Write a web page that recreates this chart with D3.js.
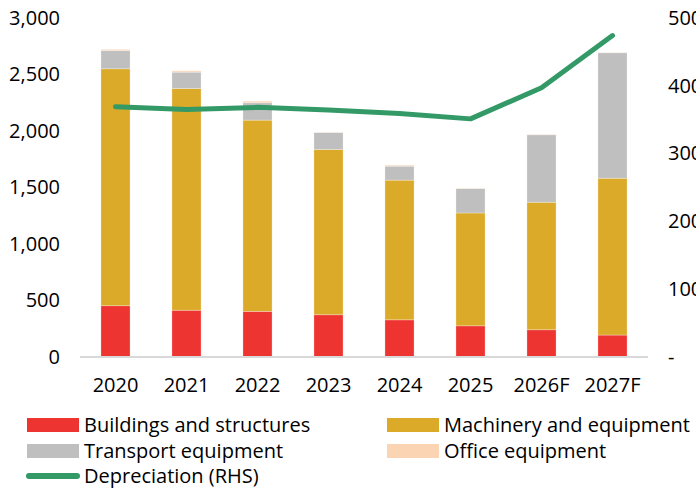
<!DOCTYPE html>
<html>
<head>
<meta charset="utf-8">
<script src="https://cdn.jsdelivr.net/npm/d3@7"></script>
<style>
  body { margin: 0; background: #fff; }
  svg { font-family: "Open Sans", "Noto Sans", sans-serif; }
</style>
</head>
<body>
<div id="chart"></div>
<script>
// data
var years = ["2020", "2021", "2022", "2023", "2024", "2025", "2026F", "2027F"];
var buildings = [450, 410, 400, 370, 325, 272, 237, 190];
var machinery = [2100, 1965, 1695, 1465, 1238, 1000, 1130, 1390];
var transport = [162, 145, 154, 150, 124, 216, 598, 1112];
var office = [10, 12, 14, 3, 9, 4, 3, 2];
var depreciation = [369, 365, 368, 364, 359, 351, 397, 474];
var leftTicks = [0, 500, 1000, 1500, 2000, 2500, 3000];
var rightTicks = [0, 100, 200, 300, 400, 500];

var W = 696, H = 491;
var margin = { left: 80, right: 48, top: 18, bottom: 134 };

var svg = d3.select("#chart").append("svg")
    .attr("width", W)
    .attr("height", H);

var x = d3.scaleBand()
    .domain(years)
    .range([margin.left, W - margin.right])
    .paddingInner(0.59)
    .paddingOuter(0.295);

var y = d3.scaleLinear().domain([0, 3000]).range([H - margin.bottom - 0.5, margin.top]);
var y2 = d3.scaleLinear().domain([0, 500]).range([H - margin.bottom - 0.5, margin.top]);

var keys = ["buildings", "machinery", "transport", "office"];
var colors = { buildings: "#ee3431", machinery: "#dbaa29", transport: "#bfbfbf", office: "#fbd4b4" };
var rows = years.map(function (yr, i) {
    return { year: yr, buildings: buildings[i], machinery: machinery[i], transport: transport[i], office: office[i] };
});
var stack = d3.stack().keys(keys)(rows);

// bars
svg.append("g").selectAll("g")
    .data(stack)
    .enter().append("g")
    .attr("fill", function (d) { return colors[d.key]; })
    .selectAll("rect")
    .data(function (d) { return d; })
    .enter().append("rect")
    .attr("x", function (d) { return x(d.data.year); })
    .attr("width", x.bandwidth())
    .attr("y", function (d) { return y(d[1]); })
    .attr("height", function (d) { return y(d[0]) - y(d[1]); })
    .attr("stroke", "#fff")
    .attr("stroke-opacity", 0.35)
    .attr("stroke-width", 0.8);

// baseline
svg.append("line")
    .attr("x1", margin.left).attr("x2", W - margin.right)
    .attr("y1", y(0) + 0.5).attr("y2", y(0) + 0.5)
    .attr("stroke", "#d9d9d9")
    .attr("stroke-width", 2);

// depreciation line
var line = d3.line()
    .x(function (d, i) { return x(years[i]) + x.bandwidth() / 2; })
    .y(function (d) { return y2(d); });
svg.append("path")
    .datum(depreciation)
    .attr("d", line)
    .attr("fill", "none")
    .attr("stroke", "#339966")
    .attr("stroke-width", 5)
    .attr("stroke-linecap", "round")
    .attr("stroke-linejoin", "round");

// left axis
var fmt = d3.format(",");
svg.append("g").selectAll("text")
    .data(leftTicks)
    .enter().append("text")
    .attr("x", 60)
    .attr("y", function (d) { return y(d); })
    .attr("dy", "0.35em")
    .attr("text-anchor", "end")
    .attr("font-size", 20)
    .attr("fill", "#000")
    .text(function (d) { return fmt(d); });

// right axis
svg.append("g").selectAll("text")
    .data(rightTicks)
    .enter().append("text")
    .attr("x", 668)
    .attr("y", function (d) { return y2(d); })
    .attr("dy", "0.35em")
    .attr("font-size", 20)
    .attr("fill", "#000")
    .text(function (d) { return d === 0 ? "-" : d; });

// x labels
svg.append("g").selectAll("text")
    .data(years)
    .enter().append("text")
    .attr("x", function (d) { return x(d) + x.bandwidth() / 2; })
    .attr("y", 385)
    .attr("dy", "0.35em")
    .attr("text-anchor", "middle")
    .attr("font-size", 20)
    .attr("fill", "#000")
    .text(function (d) { return d; });

// legend
var legendItems = [
    { label: "Buildings and structures", color: colors.buildings, x: 27, y: 425 },
    { label: "Machinery and equipment", color: colors.machinery, x: 387, y: 425 },
    { label: "Transport equipment", color: colors.transport, x: 27, y: 451 },
    { label: "Office equipment", color: colors.office, x: 387, y: 451 },
    { label: "Depreciation (RHS)", color: "#339966", x: 27, y: 476, line: true }
];
var lg = svg.append("g").selectAll("g")
    .data(legendItems)
    .enter().append("g");
lg.filter(function (d) { return !d.line; }).append("rect")
    .attr("x", function (d) { return d.x; })
    .attr("y", function (d) { return d.y - 7; })
    .attr("width", 52)
    .attr("height", 14)
    .attr("fill", function (d) { return d.color; });
lg.filter(function (d) { return d.line; }).append("line")
    .attr("x1", function (d) { return d.x + 2; })
    .attr("x2", function (d) { return d.x + 50; })
    .attr("y1", function (d) { return d.y; })
    .attr("y2", function (d) { return d.y; })
    .attr("stroke", function (d) { return d.color; })
    .attr("stroke-width", 6)
    .attr("stroke-linecap", "round");
lg.append("text")
    .attr("x", function (d) { return d.x + 57; })
    .attr("y", function (d) { return d.y; })
    .attr("dy", "0.35em")
    .attr("font-size", 20)
    .attr("fill", "#000")
    .text(function (d) { return d.label; });
</script>
</body>
</html>
